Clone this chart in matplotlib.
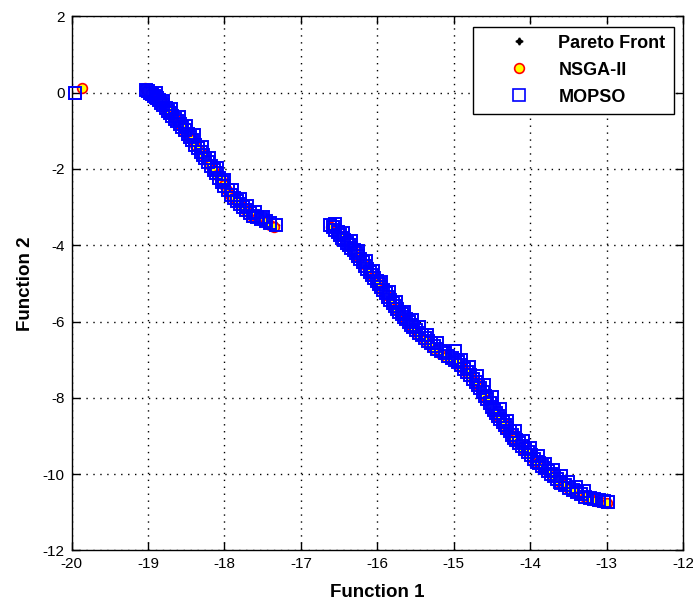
import matplotlib
matplotlib.use("Agg")
import matplotlib.pyplot as plt

plt.rcParams['font.family'] = ['Liberation Sans', 'DejaVu Sans']

# ---------------- data ----------------
pareto_f1 = [-19.87, -19.04, -18.95, -18.85, -18.70, -18.55, -18.40, -18.25, -18.10, -17.95, -17.80, -17.65, -17.50, -17.33,
             -16.62, -16.45, -16.28, -16.10, -15.90, -15.70, -15.50, -15.30, -15.10, -14.95, -14.80, -14.65, -14.50,
             -14.35, -14.20, -14.05, -13.90, -13.75, -13.60, -13.45, -13.30, -13.15, -13.00]
pareto_f2 = [0.12, 0.10, -0.04, -0.19, -0.55, -0.90, -1.32, -1.72, -2.12, -2.60, -2.91, -3.18, -3.33, -3.48,
             -3.48, -3.84, -4.21, -4.70, -5.24, -5.79, -6.23, -6.57, -6.88, -7.05, -7.38, -7.76, -8.25,
             -8.66, -9.07, -9.40, -9.70, -9.98, -10.22, -10.42, -10.57, -10.66, -10.74]

nsga_f1 = [-19.86,
           -19.04, -19.01, -18.96, -18.92, -18.87, -18.82, -18.78, -18.73, -18.69, -18.64, -18.60, -18.56,
           -18.51, -18.47, -18.43, -18.38, -18.33, -18.29, -18.24, -18.19, -18.15, -18.10, -18.05, -18.01,
           -17.97, -17.93, -17.89, -17.84, -17.79, -17.74, -17.69, -17.64, -17.58, -17.52, -17.46, -17.40, -17.35,
           -16.60, -16.54, -16.48, -16.42, -16.36, -16.30, -16.24, -16.18, -16.12, -16.06, -16.00, -15.94,
           -15.88, -15.82, -15.76, -15.70, -15.64, -15.58, -15.52, -15.45, -15.38, -15.31, -15.24, -15.17,
           -15.10, -15.03, -14.96, -14.90, -14.84, -14.78, -14.72, -14.66, -14.61, -14.56, -14.51, -14.46,
           -14.41, -14.36, -14.31, -14.26, -14.21, -14.15, -14.09, -14.03, -13.97, -13.91, -13.84, -13.77,
           -13.70, -13.63, -13.56, -13.49, -13.42, -13.35, -13.28, -13.21, -13.14, -13.07, -13.00]
nsga_f2 = [0.13,
           0.12, 0.06, 0.00, -0.07, -0.15, -0.27, -0.37, -0.49, -0.60, -0.71, -0.80, -0.89,
           -1.02, -1.13, -1.24, -1.38, -1.51, -1.62, -1.76, -1.90, -2.02, -2.15, -2.30, -2.43,
           -2.55, -2.67, -2.76, -2.86, -2.95, -3.05, -3.14, -3.22, -3.29, -3.35, -3.40, -3.46, -3.52,
           -3.52, -3.63, -3.76, -3.90, -4.04, -4.17, -4.34, -4.50, -4.66, -4.83, -4.99, -5.16,
           -5.31, -5.48, -5.64, -5.80, -5.93, -6.07, -6.20, -6.34, -6.48, -6.62, -6.75, -6.86,
           -6.94, -7.00, -7.08, -7.20, -7.32, -7.46, -7.58, -7.73, -7.89, -8.06, -8.22, -8.39,
           -8.54, -8.67, -8.81, -8.94, -9.08, -9.21, -9.33, -9.45, -9.58, -9.70, -9.82, -9.95,
           -10.07, -10.19, -10.29, -10.38, -10.46, -10.54, -10.61, -10.65, -10.69, -10.72, -10.76]

mopso_f1 = [-19.96,
            -19.03, -19.00, -18.97, -18.95, -18.92, -18.90, -18.88, -18.86, -18.83, -18.80, -18.77, -18.74,
            -18.71, -18.68, -18.65, -18.62, -18.58, -18.55, -18.52, -18.48, -18.45, -18.42, -18.38, -18.35,
            -18.31, -18.28, -18.25, -18.21, -18.18, -18.14, -18.11, -18.07, -18.03, -18.00, -17.96, -17.92,
            -17.88, -17.84, -17.80, -17.76, -17.72, -17.67, -17.62, -17.57, -17.52, -17.46, -17.40, -17.32,
            -18.90, -18.80, -18.70, -18.60, -18.50, -18.40, -18.30, -18.20, -18.10, -18.00, -17.90, -17.80,
            -17.70, -17.60, -17.50,
            -16.62, -16.58, -16.55, -16.52, -16.49, -16.46, -16.43, -16.40, -16.37, -16.34, -16.31, -16.28,
            -16.25, -16.22, -16.19, -16.16, -16.13, -16.10, -16.07, -16.04, -16.01,
            -15.98, -15.95, -15.92, -15.89, -15.86, -15.83, -15.80, -15.77,
            -15.74, -15.71, -15.68, -15.65, -15.62, -15.59, -15.56, -15.53, -15.50,
            -15.46, -15.42, -15.38, -15.34, -15.30, -15.26, -15.22, -15.22,
            -15.17, -15.12, -15.07, -15.02, -14.98, -14.98,
            -14.95, -14.91, -14.87, -14.83, -14.79, -14.75, -14.71, -14.68,
            -14.65, -14.62, -14.59, -14.56, -14.53, -14.50, -14.47, -14.45,
            -14.42, -14.39, -14.36, -14.33, -14.30, -14.27, -14.24, -14.21, -14.19,
            -14.15, -14.11, -14.07, -14.03, -13.99, -13.95, -13.91, -13.89,
            -13.85, -13.81, -13.77, -13.73, -13.69, -13.65, -13.61, -13.59,
            -13.54, -13.49, -13.44, -13.39, -13.34, -13.28,
            -13.22, -13.16, -13.10, -13.04, -12.98,
            -16.55, -16.45, -16.35, -16.25, -16.15, -16.05, -15.95, -15.85, -15.75, -15.65, -15.55, -15.45,
            -15.35, -14.90, -14.80, -14.70, -14.60, -14.50, -14.40, -14.30, -14.20, -14.10, -14.00, -13.90,
            -13.80, -13.70, -13.60, -13.50, -13.40, -13.30]
mopso_f2 = [0.00,
            0.08, 0.04, -0.01, -0.04, -0.08, -0.12, -0.15, -0.18, -0.26, -0.33, -0.40, -0.47,
            -0.54, -0.61, -0.68, -0.75, -0.83, -0.90, -0.98, -1.09, -1.17, -1.25, -1.36, -1.44,
            -1.55, -1.63, -1.71, -1.82, -1.91, -2.03, -2.11, -2.23, -2.35, -2.44, -2.56, -2.67,
            -2.75, -2.83, -2.91, -2.99, -3.07, -3.16, -3.22, -3.27, -3.32, -3.37, -3.42, -3.47,
            0.00, -0.22, -0.42, -0.65, -0.88, -1.12, -1.42, -1.70, -1.98, -2.30, -2.55, -2.78,
            -2.98, -3.12, -3.25,
            -3.47, -3.52, -3.60, -3.66, -3.73, -3.80, -3.86, -3.93, -3.99, -4.06, -4.13, -4.20,
            -4.28, -4.36, -4.45, -4.53, -4.61, -4.69, -4.77, -4.86, -4.94,
            -5.02, -5.10, -5.18, -5.26, -5.35, -5.43, -5.51, -5.59,
            -5.67, -5.74, -5.81, -5.88, -5.94, -6.01, -6.08, -6.15, -6.22,
            -6.29, -6.36, -6.43, -6.50, -6.57, -6.64, -6.71, -6.55,
            -6.77, -6.83, -6.89, -6.95, -7.00, -6.78,
            -7.07, -7.15, -7.24, -7.33, -7.41, -7.50, -7.59, -7.65,
            -7.75, -7.85, -7.94, -8.04, -8.14, -8.24, -8.33, -8.40,
            -8.48, -8.56, -8.64, -8.72, -8.80, -8.88, -8.96, -9.04, -9.10,
            -9.18, -9.26, -9.34, -9.42, -9.51, -9.59, -9.67, -9.71,
            -9.78, -9.85, -9.92, -9.99, -10.06, -10.13, -10.20, -10.23,
            -10.29, -10.35, -10.41, -10.47, -10.53, -10.60,
            -10.62, -10.65, -10.68, -10.70, -10.73,
            -3.45, -3.68, -3.90, -4.15, -4.40, -4.68, -4.95, -5.22, -5.48, -5.75, -5.95, -6.15,
            -6.35, -7.00, -7.20, -7.42, -7.65, -7.98, -8.30, -8.60, -8.88, -9.12, -9.32, -9.52,
            -9.72, -9.90, -10.05, -10.20, -10.33, -10.45]

x_ticks = [-20, -19, -18, -17, -16, -15, -14, -13, -12]
y_ticks = [-12, -10, -8, -6, -4, -2, 0, 2]

# ---------------- figure ----------------
fig = plt.figure(figsize=(6.93, 6.05), dpi=100)
ax = fig.add_axes([0.1033, 0.0901, 0.8823, 0.8828])

ax.plot(pareto_f1, pareto_f2, linestyle='none', marker=(4, 1, 0), markersize=5,
        color='black', label='Pareto Front', zorder=2, clip_on=False)
ax.plot(nsga_f1, nsga_f2, linestyle='none', marker='o', markersize=7,
        markerfacecolor='#ffff00', markeredgecolor='#ff0000', markeredgewidth=1.2,
        label='NSGA-II', zorder=3, clip_on=False)
ax.plot(mopso_f1, mopso_f2, linestyle='none', marker='s', markersize=9,
        markerfacecolor='none', markeredgecolor='#0000ff', markeredgewidth=1.4,
        label='MOPSO', zorder=4, clip_on=False)

ax.set_xlim(-20, -12)
ax.set_ylim(-12, 2)
ax.set_xticks(x_ticks)
ax.set_yticks(y_ticks)
ax.set_xticklabels([str(t) for t in x_ticks])
ax.set_yticklabels([str(t) for t in y_ticks])
ax.tick_params(direction='in', length=6, width=1, top=True, right=True,
               labelsize=11, pad=5, colors='black')
for s in ax.spines.values():
    s.set_linewidth(1.0)
    s.set_color('black')

ax.grid(True, color='black', linestyle=(0, (1, 4)), linewidth=1.0)
ax.set_axisbelow(True)

ax.set_xlabel('Function 1', fontsize=13.5, fontweight='bold', labelpad=9)
ax.set_ylabel('Function 2', fontsize=13.5, fontweight='bold', labelpad=6)

leg = ax.legend(loc='upper right', bbox_to_anchor=(0.9845, 0.981), borderaxespad=0,
                fancybox=False, framealpha=1, edgecolor='black',
                prop={'weight': 'bold', 'size': 13},
                handlelength=4.2, handletextpad=0.1, borderpad=0.45, labelspacing=0.55)
leg.get_frame().set_linewidth(1.0)
for h in leg.legend_handles:
    h.set_markeredgewidth(1.2)

fig.savefig('out.png', dpi=100)
